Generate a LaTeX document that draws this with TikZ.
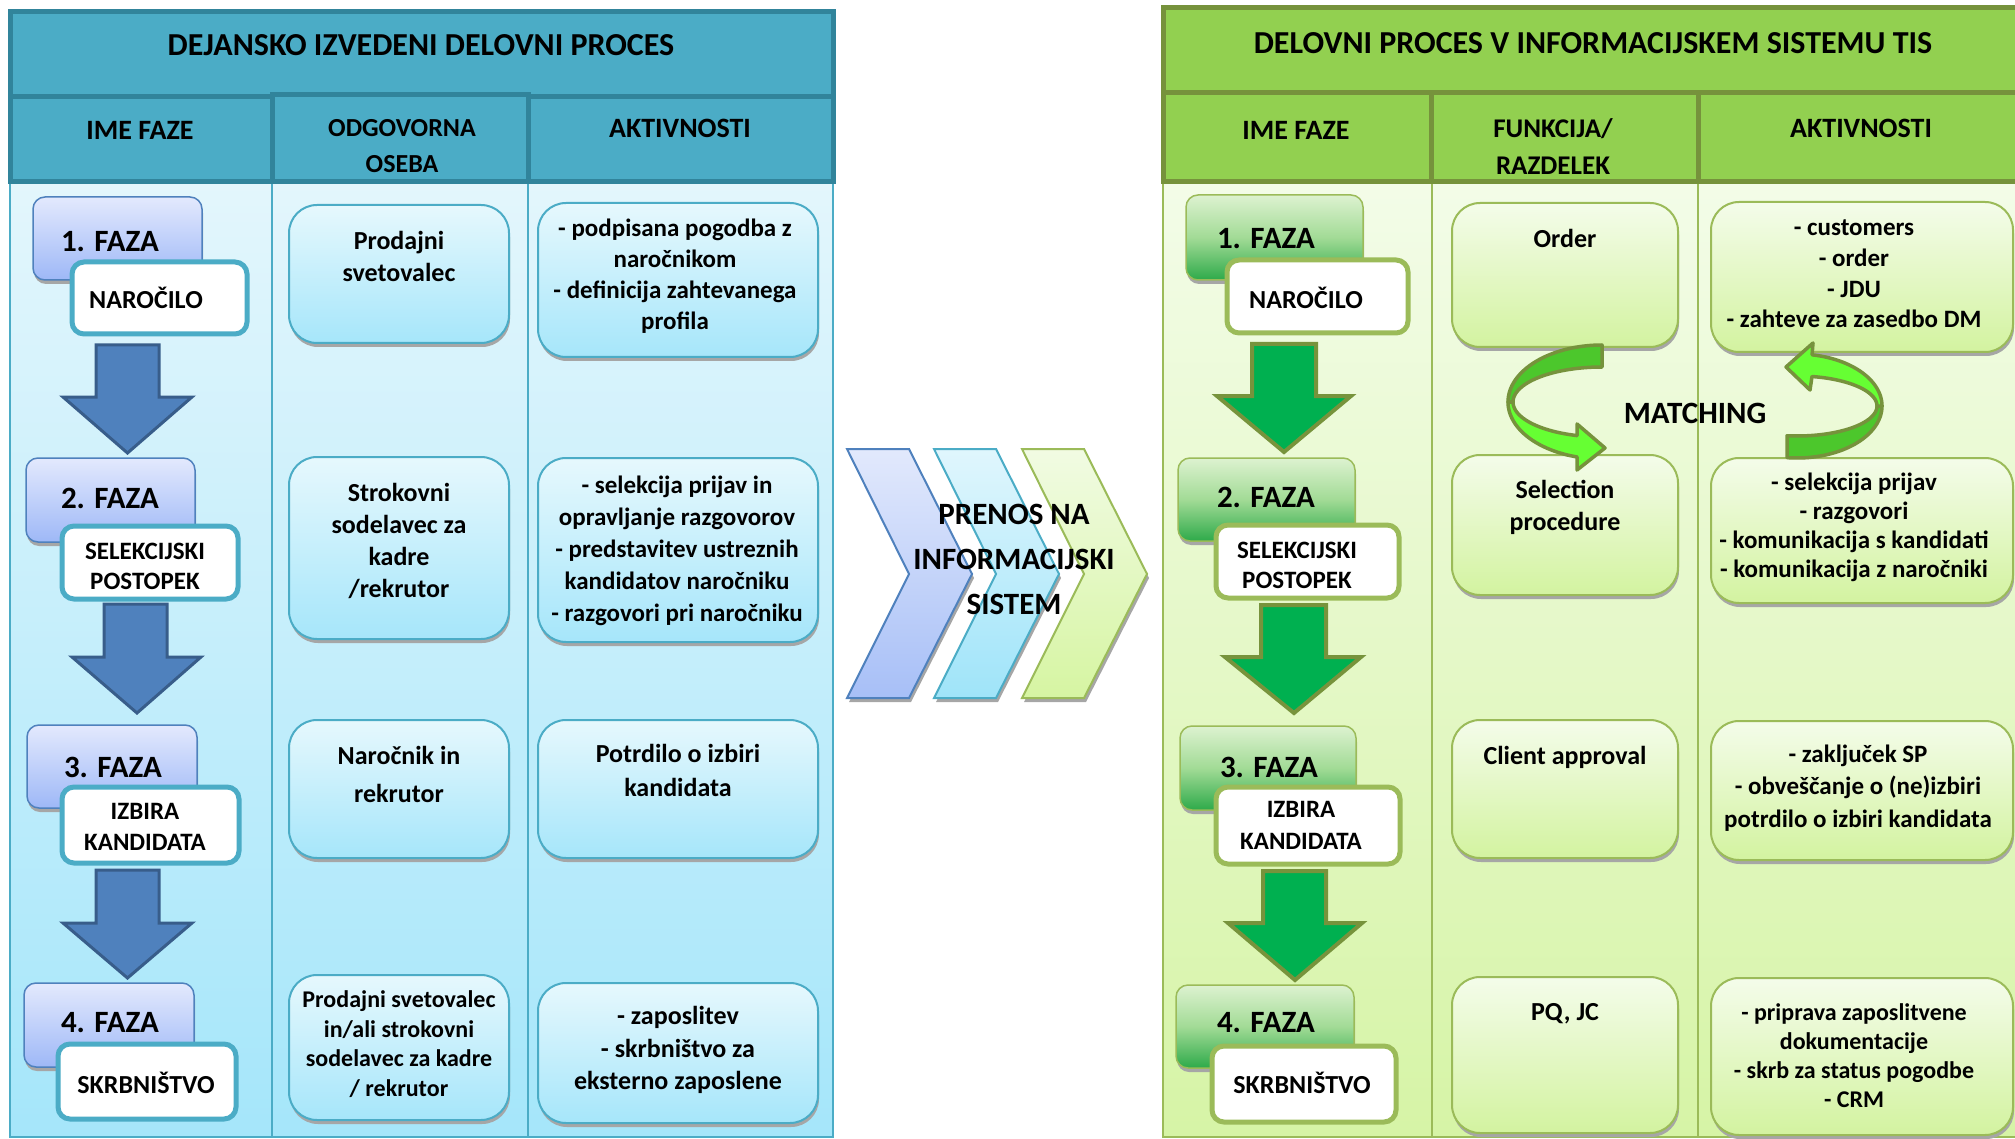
\documentclass[tikz,border=0pt]{standalone}
\usepackage{fontspec}
\setmainfont{Carlito}
\usetikzlibrary{calc}
\definecolor{lhdr}{HTML}{4BACC6}
\definecolor{lhdrb}{HTML}{31849B}
\definecolor{laqua}{HTML}{4BACC6}
\definecolor{lbt}{HTML}{E3F6FC}
\definecolor{lbb}{HTML}{A5E6FA}
\definecolor{lpt}{HTML}{E3E9FD}
\definecolor{lpb}{HTML}{9EB8F7}
\definecolor{lblue}{HTML}{4F81BD}
\definecolor{lbluedark}{HTML}{385D8A}
\definecolor{ltt}{HTML}{E6F8FD}
\definecolor{ltb}{HTML}{A6E6FA}
\definecolor{rhdr}{HTML}{92D050}
\definecolor{rhdrb}{HTML}{76923C}
\definecolor{rolive}{HTML}{9BBB59}
\definecolor{rbt}{HTML}{F3FCE8}
\definecolor{rbb}{HTML}{D6F4A6}
\definecolor{rpt}{HTML}{DDF2D0}
\definecolor{rpm}{HTML}{A2DB96}
\definecolor{rpb}{HTML}{2EAA4A}
\definecolor{rtt}{HTML}{F4FCEA}
\definecolor{rtb}{HTML}{D3F3A0}
\definecolor{rgreen}{HTML}{00B050}
\definecolor{rgreenb}{HTML}{77933C}
\definecolor{mbright}{HTML}{66FF33}
\definecolor{mdark}{HTML}{4CC72C}
\definecolor{c1t}{HTML}{E2E9FC}
\definecolor{c1b}{HTML}{A7BFF7}
\definecolor{c2t}{HTML}{E0F6FD}
\definecolor{c2b}{HTML}{9FE4F9}
\definecolor{c3t}{HTML}{F1FBE3}
\definecolor{c3b}{HTML}{D6F5A2}
\newcommand{\fs}[2]{\fontsize{#1}{#2}\selectfont\bfseries}
\newcommand{\mybox}[6]{%
  \fill[black!35, rounded corners=#2] ({#3+1},{#4+4}) rectangle ({#5+1},{#6+4});
  \path[#1, rounded corners=#2] (#3,#4) rectangle (#5,#6);}
\begin{document}
\begin{tikzpicture}[x=1pt,y=-1pt,
  txt/.style={align=center, inner sep=0pt, text=black},
  lhead/.style={fill=lhdr, draw=lhdrb, line width=5pt},
  rhead/.style={fill=rhdr, draw=rhdrb, line width=5pt},
  lbody/.style={top color=lbt, bottom color=lbb, draw=laqua, line width=2pt},
  rbody/.style={top color=rbt, bottom color=rbb, draw=rolive, line width=2pt},
  lphase/.style={top color=lpt, bottom color=lpb, draw=lblue, line width=1.5pt},
  rphase/.style={top color=rpt, bottom color=rpb, middle color=rpm, draw=rolive, line width=1.5pt},
  lname/.style={fill=white, draw=laqua, line width=5pt, rounded corners=12pt},
  rname/.style={fill=white, draw=rolive, line width=5pt, rounded corners=12pt},
  ltext/.style={top color=ltt, bottom color=ltb, draw=laqua, line width=2pt},
  rtext/.style={top color=rtt, bottom color=rtb, draw=rolive, line width=2pt},
  barrow/.style={fill=lblue, draw=lbluedark, line width=3pt, line join=miter},
  garrow/.style={fill=rgreen, draw=rgreenb, line width=4pt, line join=miter},
  marc/.style={draw=rhdrb, line width=3.5pt, line join=round},
  chev/.style={line width=2pt, line join=miter}
]
\useasboundingbox (0,0) rectangle (2015,1139);
\clip (0,0) rectangle (2015,1139);

% ================= LEFT PANEL =================
\path[lbody] (10,183) rectangle (833,1137);
\draw[laqua, line width=1.5pt] (272,183) -- (272,1137);
\draw[laqua, line width=1.5pt] (528,183) -- (528,1137);
\path[lhead] (10,12) rectangle (833,97);
\path[lhead] (10,97) rectangle (272,182);
\path[lhead] (528,97) rectangle (833,182);
\path[lhead] (272,95) rectangle (528,182);

\node[txt, font=\fs{32}{38}] (ltitle) at (421,45) {DEJANSKO IZVEDENI DELOVNI PROCES};
\node[txt, font=\fs{28}{34}] (lh1) at (140,130) {IME FAZE};
\node[txt, font=\fs{26}{36}] (lh2) at (402,146) {ODGOVORNA\\OSEBA};
\node[txt, font=\fs{28}{34}] (lh3) at (680,128) {AKTIVNOSTI};

% phase boxes
\mybox{lphase}{12pt}{33}{197}{202}{280}
\path[lname] (72,262) rectangle (247,334);
\mybox{lphase}{12pt}{26}{458}{195}{542}
\path[lname] (62,526) rectangle (238,599);
\mybox{lphase}{12pt}{27}{725}{197}{808}
\path[lname] (62,787) rectangle (239,863);
\mybox{lphase}{12pt}{24}{983}{194}{1067}
\path[lname] (58,1044) rectangle (236,1119);

\node[txt, font=\fs{31}{36}] (lf1) at (110,242) {1. FAZA};
\node[txt, font=\fs{26}{31}] (ln1) at (146,298) {NAROČILO};
\node[txt, font=\fs{31}{36}] (lf2) at (110,498) {2. FAZA};
\node[txt, font=\fs{25}{30}] (ln2) at (145,566) {SELEKCIJSKI\\POSTOPEK};
\node[txt, font=\fs{31}{36}] (lf3) at (113,767) {3. FAZA};
\node[txt, font=\fs{25}{31}] (ln3) at (145,827) {IZBIRA\\KANDIDATA};
\node[txt, font=\fs{31}{36}] (lf4) at (110,1023) {4. FAZA};
\node[txt, font=\fs{26}{31}] (ln4) at (146,1083) {SKRBNIŠTVO};

% blue down arrows
\draw[barrow] (96,345) -- (159,345) -- (159,397) -- (192,397) -- (127.5,453) -- (63,397) -- (96,397) -- cycle;
\draw[barrow] (104,604) -- (167,604) -- (167,657) -- (201,657) -- (137,713) -- (72,657) -- (104,657) -- cycle;
\draw[barrow] (96,870) -- (159,870) -- (159,923) -- (192,923) -- (127.5,978) -- (63,923) -- (96,923) -- cycle;

% middle column boxes
\mybox{ltext}{28pt}{289}{205}{509}{343}
\mybox{ltext}{28pt}{289}{457}{509}{639}
\mybox{ltext}{28pt}{289}{720}{509}{858}
\mybox{ltext}{28pt}{289}{975}{509}{1120}
\node[txt, font=\fs{26}{32}] (lm1) at (399,256) {Prodajni\\svetovalec};
\node[txt, font=\fs{26}{32}] (lm2) at (399,541) {Strokovni\\sodelavec za\\kadre\\/rekrutor};
\node[txt, font=\fs{26}{38}] (lm3) at (399,774) {Naročnik in\\rekrutor};
\node[txt, font=\fs{24}{29.5}] (lm4) at (399,1044) {Prodajni svetovalec\\in/ali strokovni\\sodelavec za kadre\\/ rekrutor};

% activity column boxes
\mybox{ltext}{28pt}{538}{203}{818}{357}
\mybox{ltext}{28pt}{538}{458}{818}{642}
\mybox{ltext}{28pt}{538}{720}{818}{858}
\mybox{ltext}{28pt}{538}{983}{818}{1123}
\node[txt, font=\fs{25}{31}] (la1) at (675,276) {- podpisana pogodba z\\naročnikom\\- definicija zahtevanega\\profila};
\node[txt, font=\fs{25}{32}] (la2) at (677,551) {- selekcija prijav in\\opravljanje razgovorov\\- predstavitev ustreznih\\kandidatov naročniku\\- razgovori pri naročniku};
\node[txt, font=\fs{26}{34}] (la3) at (678,770) {Potrdilo o izbiri\\kandidata};
\node[txt, font=\fs{26}{32.5}] (la4) at (678,1050) {- zaposlitev\\- skrbništvo za\\eksterno zaposlene};

% ================= CHEVRONS =================
\foreach \dx/\ct/\cb/\cd in {0/c1t/c1b/lblue, 87/c2t/c2b/laqua, 175/c3t/c3b/rolive}{
  \fill[black!35] ({847+\dx+2},453) -- ({909+\dx+2},453) -- ({972+\dx+2},578) -- ({909+\dx+2},702) -- ({847+\dx+2},702) -- ({909+\dx+2},578) -- cycle;
  \path[chev, top color=\ct, bottom color=\cb, draw=\cd] ({847+\dx},449) -- ({909+\dx},449) -- ({972+\dx},574) -- ({909+\dx},698) -- ({847+\dx},698) -- ({909+\dx},574) -- cycle;
}
\node[txt, font=\fs{31}{45}] (prenos) at (1014,559) {PRENOS NA\\INFORMACIJSKI\\SISTEM};

% ================= RIGHT PANEL =================
\path[rbody] (1163,182) rectangle (2030,1137);
\draw[rolive, line width=1.5pt] (1432,182) -- (1432,1137);
\draw[rolive, line width=1.5pt] (1698,182) -- (1698,1137);
\path[rhead] (1163,8) rectangle (2030,93);
\path[rhead] (1163,93) rectangle (1431,182);
\path[rhead] (1431,93) rectangle (1698,182);
\path[rhead] (1698,93) rectangle (2030,182);

\node[txt, font=\fs{32}{38}] (rtitle) at (1593,43) {DELOVNI PROCES V INFORMACIJSKEM SISTEMU TIS};
\node[txt, font=\fs{28}{34}] (rh1) at (1296,130) {IME FAZE};
\node[txt, font=\fs{27}{37}] (rh2) at (1553,147) {FUNKCIJA/\\RAZDELEK};
\node[txt, font=\fs{28}{34}] (rh3) at (1861,128) {AKTIVNOSTI};

% phase boxes
\mybox{rphase}{12pt}{1186}{195}{1363}{280}
\path[rname] (1227,260) rectangle (1408,333);
\mybox{rphase}{12pt}{1178}{458}{1355}{541}
\path[rname] (1216,525) rectangle (1399,598);
\mybox{rphase}{12pt}{1180}{726}{1356}{810}
\path[rname] (1216,787) rectangle (1400,864);
\mybox{rphase}{12pt}{1176}{985}{1354}{1068}
\path[rname] (1212,1046) rectangle (1396,1122);

\node[txt, font=\fs{31}{36}] (rf1) at (1266,239) {1. FAZA};
\node[txt, font=\fs{26}{31}] (rn1) at (1306,298) {NAROČILO};
\node[txt, font=\fs{31}{36}] (rf2) at (1266,497) {2. FAZA};
\node[txt, font=\fs{25}{30}] (rn2) at (1297,565) {SELEKCIJSKI\\POSTOPEK};
\node[txt, font=\fs{31}{36}] (rf3) at (1269,767) {3. FAZA};
\node[txt, font=\fs{25}{32}] (rn3) at (1301,825) {IZBIRA\\KANDIDATA};
\node[txt, font=\fs{31}{36}] (rf4) at (1266,1023) {4. FAZA};
\node[txt, font=\fs{26}{31}] (rn4) at (1302,1083) {SKRBNIŠTVO};

% green down arrows
\draw[garrow] (1252,344) -- (1316,344) -- (1316,396) -- (1351,396) -- (1284,452) -- (1217,396) -- (1252,396) -- cycle;
\draw[garrow] (1261,605) -- (1326,605) -- (1326,657) -- (1361,657) -- (1294,713) -- (1225,657) -- (1261,657) -- cycle;
\draw[garrow] (1263,871) -- (1326,871) -- (1326,923) -- (1362,923) -- (1295,980) -- (1228,923) -- (1263,923) -- cycle;

% function column boxes
\mybox{rtext}{28pt}{1452}{203}{1678}{347}
\mybox{rtext}{28pt}{1452}{455}{1678}{595}
\mybox{rtext}{28pt}{1452}{720}{1678}{858}
\mybox{rtext}{28pt}{1452}{977}{1678}{1133}
\node[txt, font=\fs{26}{32}] (rm1) at (1565,238) {Order};
\node[txt, font=\fs{26}{32}] (rm2) at (1565,507) {Selection\\procedure};
\node[txt, font=\fs{26}{32}] (rm3) at (1565,757) {Client approval};
\node[txt, font=\fs{26}{32}] (rm4) at (1565,1014) {PQ, JC};

% activity column boxes
\mybox{rtext}{28pt}{1711}{202}{2013}{352}
\mybox{rtext}{28pt}{1711}{458}{2013}{603}
\mybox{rtext}{28pt}{1711}{721}{2013}{860}
\mybox{rtext}{28pt}{1711}{978}{2013}{1135}
\node[txt, font=\fs{25}{30.7}] (ra1) at (1854,274) {- customers\\- order\\- JDU\\- zahteve za zasedbo DM};
\node[txt, font=\fs{25}{29}] (ra2) at (1854,527) {- selekcija prijav\\- razgovori\\- komunikacija s kandidati\\- komunikacija z naročniki};
\node[txt, font=\fs{25}{32.5}] (ra3) at (1858,788) {- zaključek SP\\- obveščanje o (ne)izbiri\\potrdilo o izbiri kandidata};
\node[txt, font=\fs{24}{29}] (ra4) at (1854,1056) {- priprava zaposlitvene\\dokumentacije\\- skrb za status pogodbe\\- CRM};

% ================= MATCHING ARROWS =================
% left arc: upper (dark) piece
\path[marc, fill=mdark] plot[domain=270:180, samples=40, variable=\t] ({1602+94*cos(\t)},{402+57*sin(\t)})
  -- plot[domain=180:270, samples=40, variable=\t] ({1602+89*cos(\t)},{402+35*sin(\t)}) -- cycle;
% left arc: lower (bright) piece with head
\path[marc, fill=mbright] plot[domain=180:105.4, samples=40, variable=\t] ({1602+94*cos(\t)},{402+57*sin(\t)})
  -- (1577,470) -- (1605,448) -- (1577,424) -- (1577,435.6)
  -- plot[domain=106.3:180, samples=40, variable=\t] ({1602+89*cos(\t)},{402+35*sin(\t)}) -- cycle;
% right arc: lower (dark) piece
\path[marc, fill=mdark] plot[domain=96.75:0, samples=40, variable=\t] ({1797+85*cos(\t)},{406+52*sin(\t)})
  -- plot[domain=0:97.2, samples=40, variable=\t] ({1797+80*cos(\t)},{406+30*sin(\t)}) -- cycle;
% right arc: upper (bright) piece with head
\path[marc, fill=mbright] plot[domain=0:-79.8, samples=40, variable=\t] ({1797+85*cos(\t)},{406+52*sin(\t)})
  -- (1813,343) -- (1786,367) -- (1810,390) -- (1812,376.5)
  -- plot[domain=-79.2:0, samples=40, variable=\t] ({1797+80*cos(\t)},{406+30*sin(\t)}) -- cycle;
\node[txt, font=\fs{31}{36}] (matching) at (1695,413) {MATCHING};
\end{tikzpicture}
\end{document}
